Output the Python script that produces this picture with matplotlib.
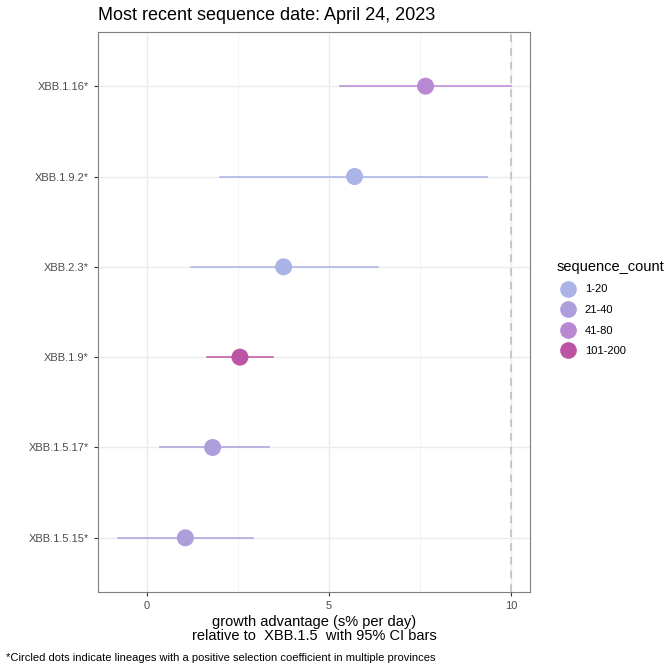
import matplotlib.pyplot as plt
from matplotlib.lines import Line2D

plt.rcParams["font.family"] = ["Liberation Sans", "DejaVu Sans"]

lineages = ["XBB.1.16*", "XBB.1.9.2*", "XBB.2.3*", "XBB.1.9*", "XBB.1.5.17*", "XBB.1.5.15*"]
growth = [7.65, 5.7, 3.75, 2.55, 1.8, 1.05]
ci_low = [5.3, 2.0, 1.2, 1.65, 0.35, -0.8]
ci_high = [10.0, 9.35, 6.35, 3.45, 3.35, 2.9]
count_group = ["41-80", "1-20", "1-20", "101-200", "21-40", "21-40"]

group_names = ["1-20", "21-40", "41-80", "101-200"]
group_colors = {"1-20": "#aab4e6", "21-40": "#ae9fdc", "41-80": "#b988d3", "101-200": "#bb55a3"}

fig = plt.figure(figsize=(6.72, 6.72), dpi=100)
ax = fig.add_axes([98 / 672, 80 / 672, 432 / 672, 560 / 672])

n = len(lineages)
ypos = [n - i for i in range(n)]
for y, g, lo, hi, grp in zip(ypos, growth, ci_low, ci_high, count_group):
    c = group_colors[grp]
    ax.plot([lo, hi], [y, y], color=c, lw=1.1, zorder=2)
    ax.scatter([g], [y], s=150, color=c, zorder=3, edgecolors="none")

ax.axvline(10, color="#bbbbbb", ls=(0, (5, 4)), lw=1.1, zorder=1)
ax.set_xlim(-1.35, 10.52)
ax.set_ylim(0.4, n + 0.6)
ax.set_xticks([0, 5, 10])
ax.set_xticks([2.5, 7.5], minor=True)
ax.set_yticks(ypos)
ax.set_yticklabels(lineages)
ax.grid(True, which="major", color="#ebebeb", lw=1.0)
ax.grid(True, which="minor", axis="x", color="#f3f3f3", lw=0.6)
ax.set_axisbelow(True)
ax.tick_params(which="minor", length=0)
ax.tick_params(which="major", length=3, color="#333333", labelsize=8, labelcolor="#4d4d4d")
for s in ax.spines.values():
    s.set_color("#7f7f7f")
    s.set_linewidth(0.8)

ax.set_xlabel("growth advantage (s% per day)\nrelative to  XBB.1.5  with 95% CI bars", fontsize=10.5, labelpad=3, linespacing=1.0)
fig.text(98 / 672, 1 - 16 / 672, "Most recent sequence date: April 24, 2023", fontsize=13, va="center")
fig.text(6 / 672, 1 - 658 / 672, "*Circled dots indicate lineages with a positive selection coefficient in multiple provinces",
         fontsize=8, va="center")

handles = [Line2D([0], [0], marker="o", ls="", markersize=11, color=group_colors[g], label=g) for g in group_names]
leg = fig.legend(handles=handles, title="sequence_count", loc="center left",
                 bbox_to_anchor=(547 / 672, 1 - 308 / 672), frameon=False, fontsize=8,
                 title_fontsize=10.5, handletextpad=0.5, labelspacing=0.95, alignment="left")

fig.savefig("out.png", dpi=100)
